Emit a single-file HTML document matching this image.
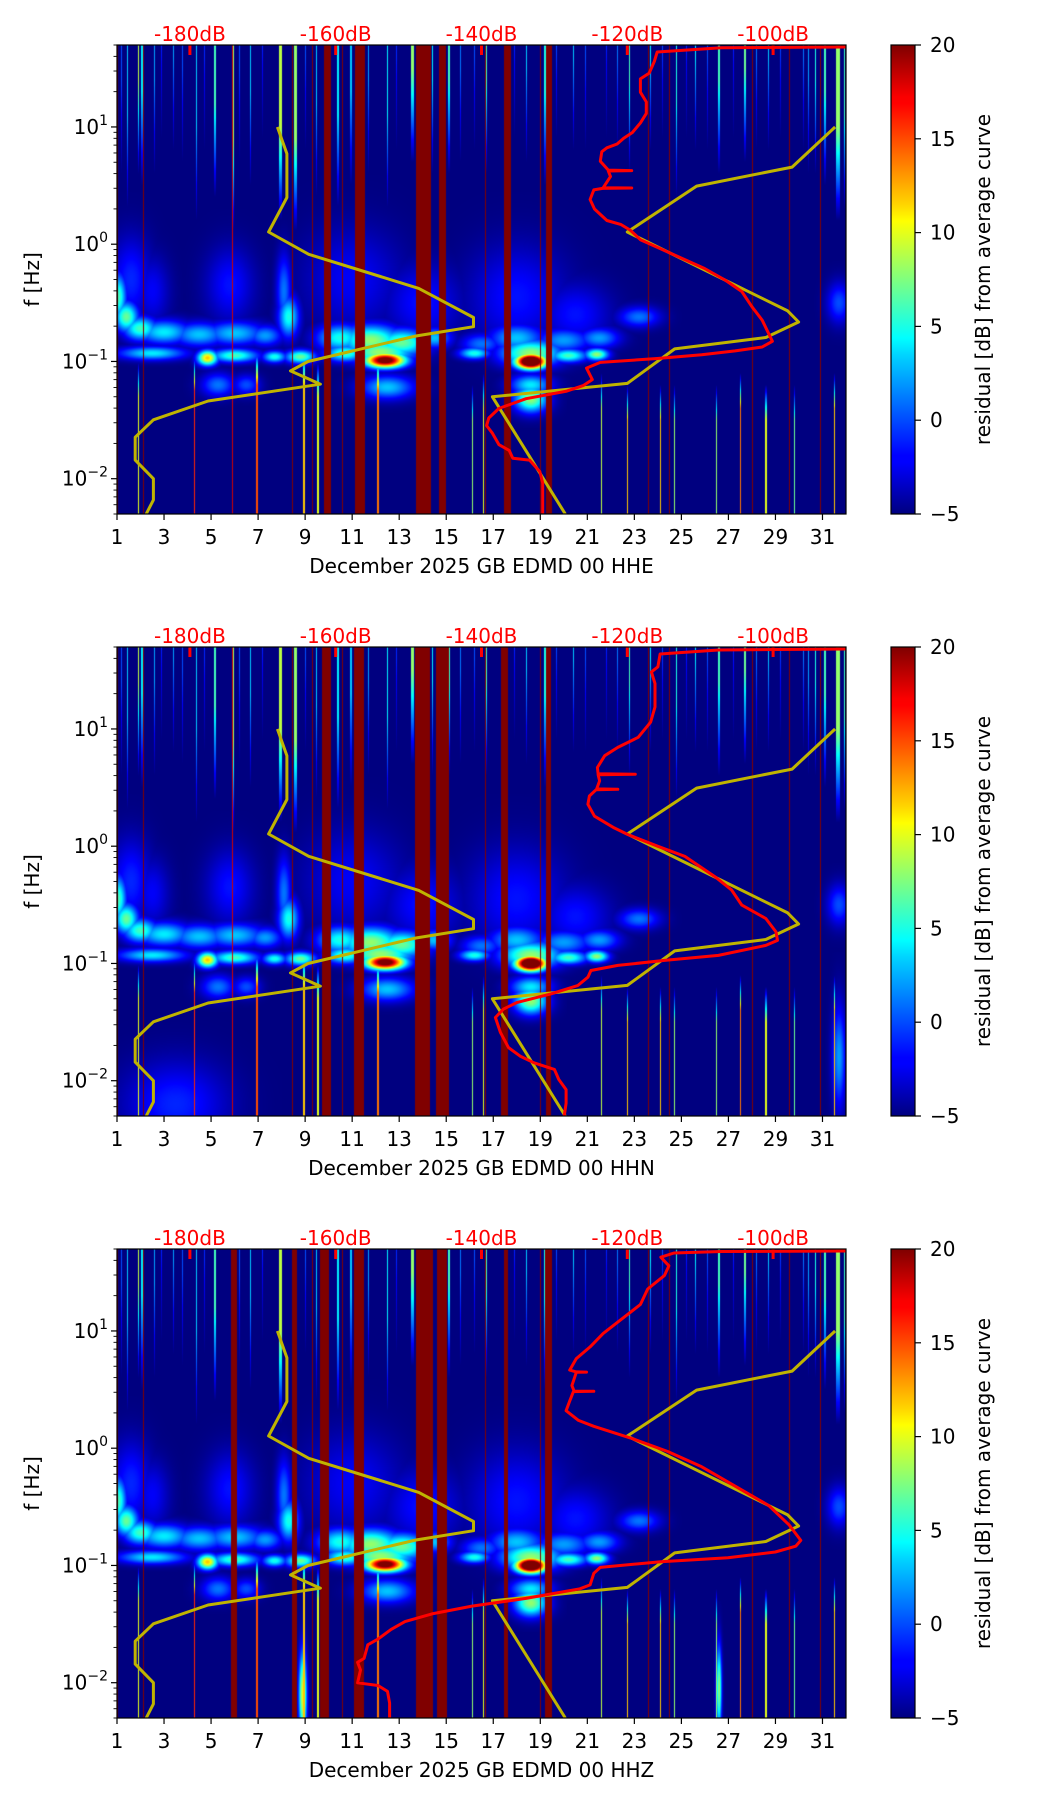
<!DOCTYPE html>
<html>
<head>
<meta charset="utf-8">
<style>
html,body{margin:0;padding:0;background:#fff;}
#wrap{position:relative;width:1052px;height:1806px;overflow:hidden;background:#fff;}
canvas{position:absolute;}
svg{position:absolute;left:0;top:0;}
text{font-family:"DejaVu Sans","Liberation Sans",sans-serif;}
</style>
</head>
<body>
<div id="wrap">
<canvas id="c0" width="729" height="469" style="left:117px;top:45px"></canvas>
<canvas id="c1" width="729" height="469" style="left:117px;top:647px"></canvas>
<canvas id="c2" width="729" height="469" style="left:117px;top:1249px"></canvas>
<svg id="ov" width="1052" height="1806"></svg>
</div>
<script>
// ---------- data ----------
const channelNames = ['HHE','HHN','HHZ'];
const dayTicks = [1,3,5,7,9,11,13,15,17,19,21,23,25,27,29,31];
const dbTicks = [-180,-160,-140,-120,-100];
const decadeTicks = [-2,-1,0,1];
const cbarTicks = [-5,0,5,10,15,20];

const nlnmFreq = [10,5.9,2.5,1.27,0.82,0.42,0.237,0.198,0.165,0.10,0.083,0.064,0.046,0.0318,0.0226,0.0144,0.01,0.0066,0.005];
const nlnmDb = [-168,-166.7,-166.7,-169.2,-163.7,-148.6,-141.1,-141.1,-149,-163.8,-166.2,-162.1,-177.5,-185,-187.5,-187.5,-185,-185,-186];
const nhnmFreq = [10,4.55,3.13,1.27,0.27,0.217,0.16,0.128,0.065,0.05,0.005];
const nhnmDb = [-91.5,-97.4,-110.5,-120,-98,-96.5,-101,-113.5,-120,-138.5,-128.5];

const redDb1 = [-89.5,-107.1,-115.9,-116.3,-117.0,-118.2,-118.2,-117.4,-117.4,-118.2,-119.3,-120.5,-121.4,-122.8,-123.5,-123.7,-122.6,-119.4,-122.6,-122.3,-123.3,-119.4,-123.4,-124.6,-125.1,-124.5,-122.8,-120.9,-119.6,-118.2,-113.5,-109.4,-106.6,-104.3,-102.9,-101.5,-100.6,-100.1,-101.5,-105.2,-109.8,-115.9,-123.7,-125.6,-124.8,-126.0,-128.3,-133.9,-137.6,-139.0,-139.3,-138.5,-137.6,-136.2,-135.7,-133.4,-132.0,-131.6,-131.6,-131.6];
const redLf1 = [1.682,1.675,1.639,1.558,1.459,1.410,1.296,1.214,1.116,1.035,0.953,0.904,0.855,0.822,0.789,0.708,0.632,0.628,0.624,0.577,0.482,0.479,0.476,0.463,0.381,0.300,0.202,0.169,0.120,0.038,-0.093,-0.207,-0.305,-0.403,-0.534,-0.648,-0.763,-0.828,-0.877,-0.910,-0.942,-0.975,-1.008,-1.057,-1.155,-1.204,-1.253,-1.318,-1.400,-1.482,-1.547,-1.612,-1.710,-1.759,-1.825,-1.841,-1.939,-2.037,-2.168,-2.309];
const redDb2 = [-89.5,-107.5,-115.5,-115.8,-116.7,-116.2,-116.2,-116.8,-118.5,-121.3,-123.1,-124.1,-124.0,-118.9,-124.0,-123.8,-124.2,-121.3,-124.3,-125.2,-125.4,-124.5,-121.8,-119.9,-115.8,-112.1,-108.0,-105.7,-104.3,-101.0,-99.6,-99.4,-101.0,-107.5,-114.9,-121.3,-125.0,-125.4,-126.8,-130.5,-135.1,-137.0,-138.1,-137.4,-136.3,-134.7,-132.8,-130.0,-129.4,-128.4,-128.4,-128.7];
const redLf2 = [1.682,1.673,1.639,1.530,1.487,1.387,1.187,1.058,0.929,0.843,0.772,0.671,0.618,0.614,0.610,0.557,0.489,0.485,0.481,0.428,0.357,0.256,0.156,0.099,-0.001,-0.087,-0.259,-0.373,-0.502,-0.617,-0.731,-0.803,-0.846,-0.931,-0.974,-1.017,-1.060,-1.117,-1.189,-1.260,-1.332,-1.389,-1.461,-1.590,-1.718,-1.790,-1.847,-1.904,-1.990,-2.076,-2.191,-2.320];
const redDb3 = [-89.5,-107.1,-113.6,-115.4,-114.3,-114.9,-117.2,-118.2,-120.9,-123.3,-125.1,-127.0,-127.9,-127.0,-125.6,-127.0,-127.6,-127.3,-124.6,-127.4,-127.9,-128.4,-126.7,-124.6,-119.6,-114.5,-109.8,-105.2,-100.6,-97.8,-96.2,-96.9,-99.7,-106.2,-115.4,-123.7,-124.6,-125.1,-126.5,-133.9,-141.3,-146.8,-150.5,-152.4,-154.2,-155.6,-156.1,-157.0,-156.6,-157.0,-154.2,-152.9,-152.6,-152.6];
const redLf3 = [1.682,1.678,1.665,1.629,1.556,1.474,1.358,1.226,1.095,0.979,0.864,0.764,0.666,0.651,0.649,0.647,0.534,0.487,0.485,0.483,0.402,0.320,0.237,0.187,0.088,-0.027,-0.159,-0.324,-0.489,-0.654,-0.786,-0.836,-0.885,-0.935,-0.968,-1.017,-1.067,-1.166,-1.199,-1.281,-1.347,-1.413,-1.479,-1.545,-1.628,-1.677,-1.793,-1.826,-1.892,-2.001,-2.024,-2.074,-2.173,-2.305];

// blobs [day, log10 f, day sigma, logf sigma, peak dB]
const blobsCommon = [
 [1.05,-0.45,0.25,0.14,6],[1.4,-0.62,0.35,0.09,7],[2.0,-0.72,0.5,0.07,6],[3.0,-0.75,0.8,0.07,4],
 [4.5,-0.77,0.8,0.07,3],[6.0,-0.76,0.9,0.07,3],[7.3,-0.78,0.5,0.06,2],
 [1.6,-0.3,0.6,0.25,-1],[2.5,-0.4,0.5,0.2,-2],[5.8,-0.35,0.7,0.22,-1.5],[8.1,-0.4,0.22,0.22,1],[8.3,-0.62,0.3,0.12,5],
 [11,-0.3,1.4,0.3,-2],[14,-0.5,1.1,0.22,-1.5],[18,-0.45,1.4,0.3,-1.5],[20.5,-0.6,1,0.18,-1.5],
 [23.2,-0.62,0.6,0.06,1],[31.7,-0.5,0.35,0.12,0],
 [10.5,-0.8,0.7,0.08,5],[11.8,-0.82,0.9,0.09,8],[13.1,-0.84,0.8,0.08,7],[14.5,-0.8,0.5,0.06,3],
 [16.5,-0.85,0.6,0.06,1],[18,-0.8,0.8,0.08,3],[20,-0.82,0.8,0.07,2],[21.5,-0.8,0.6,0.06,2],
 [2.5,-0.93,1.0,0.04,4],[4.85,-0.97,0.3,0.045,12],[6.0,-0.95,0.7,0.04,6],[7.7,-0.96,0.35,0.035,5],
 [8.8,-0.96,0.45,0.04,7],[10.7,-0.93,0.6,0.05,6],[12.4,-0.99,0.6,0.045,23],[12.2,-0.92,1.0,0.07,8],
 [16.2,-0.93,0.45,0.035,5],[18.6,-1.0,0.45,0.045,30],[18.6,-0.93,0.9,0.08,8],[20.2,-0.95,0.55,0.04,6],
 [21.4,-0.94,0.35,0.035,8],
 [5.3,-1.2,0.5,0.07,1],[6.5,-1.2,0.4,0.06,0],[12.5,-1.22,0.8,0.07,3],[18.6,-1.32,0.5,0.08,8],[18.6,-1.2,0.6,0.06,4]
];
const blobsExtra = [
 [],
 [[3.5,-2.2,1.5,0.25,-1],[31.7,-1.8,0.2,0.3,2]],
 [[26.6,-2.05,0.08,0.25,8],[8.9,-2.1,0.12,0.25,10]]
];
const bands = [
 [[9.79,10.07],[11.14,11.5],[13.71,14.31],[14.69,14.95],[17.46,17.72],[19.25,19.45]],
 [[9.72,10.06],[11.09,11.47],[13.67,14.27],[14.56,15.06],[17.31,17.59],[19.23,19.41]],
 [[9.64,9.99],[11.08,11.47],[13.7,14.4],[14.6,15.0],[17.45,17.6],[19.2,19.45],[5.85,6.05],[8.45,8.6]]
];
// full-height thin lines [day, width days, dB]
const fullLines = [[1.0,0.04,20],[2.1,0.03,20],[5.9,0.03,18],[8.45,0.04,20],[9.3,0.03,20],[10.6,0.03,20],[16.65,0.03,20],[19.0,0.03,20],[23.6,0.03,20],[24.5,0.03,20],[28.0,0.03,20],[29.6,0.03,20],[30.9,0.03,20]];
// low-frequency spikes [day, width days, top log f, dB]
const lfSpikes = [[1.9,0.04,-1.0,10],[4.3,0.04,-0.95,16],[6.95,0.08,-0.9,15],[8.95,0.1,-0.9,12],[9.55,0.05,-1.0,10],[12.1,0.05,-0.95,14],[16.1,0.04,-1.2,8],[16.6,0.04,-1.1,10],[21.6,0.04,-1.1,9],[22.7,0.04,-1.2,12],[24.1,0.05,-1.2,12],[24.7,0.04,-1.2,8],[26.5,0.04,-1.2,8],[27.5,0.05,-1.1,14],[28.6,0.05,-1.2,10],[29.8,0.04,-1.2,7],[31.5,0.06,-1.1,12]];
// high-frequency streaks [day, width days, bottom log f, dB]
const hfStreaks = [[1.45,0.05,0.3,3],[1.9,0.05,0.6,9],[2.07,0.06,0.5,4],[2.6,0.04,0.6,2],[3.4,0.03,0.8,2],[4.4,0.04,0.2,3],[5.17,0.06,0.4,6],[5.94,0.1,0.1,8],[6.66,0.05,0.5,3],[7.95,0.12,0.2,9],[8.6,0.15,0.1,8],[9.5,0.05,0.4,3],[10.4,0.06,0.3,4],[10.95,0.05,0.5,3],[11.7,0.04,0.6,2],[12.5,0.06,0.3,4],[13.55,0.12,0.7,8],[14.4,0.05,0.6,4],[15.1,0.08,0.6,6],[16.7,0.06,0.6,6],[17.5,0.04,0.8,3],[18.4,0.05,0.7,3],[19.2,0.06,0.5,5],[20.4,0.05,0.8,3],[22.8,0.05,0.6,6],[23.7,0.05,0.8,4],[24.8,0.06,0.4,5],[25.6,0.04,0.8,4],[26.6,0.06,0.6,6],[27.7,0.06,0.7,7],[28.7,0.04,0.8,3],[30.7,0.05,0.6,5],[31.1,0.06,0.5,6],[31.65,0.15,0.2,8],[31.95,0.05,0.3,6],
 [1.2,0.04,0.6,0],[2.9,0.04,0.9,-1],[3.8,0.04,0.7,0],[4.7,0.04,0.8,-1],[6.2,0.04,0.7,0],[7.2,0.04,0.9,-1],[9.0,0.04,0.8,0],[9.9,0.04,0.7,-1],[11.3,0.04,0.8,0],[12.9,0.04,0.8,-1],[14.9,0.04,0.8,0],[15.6,0.04,0.7,1],[16.2,0.04,0.8,0],[17.9,0.04,0.9,-1],[19.7,0.04,0.9,0],[20.9,0.04,0.8,0],[21.8,0.04,0.9,-1],[22.3,0.04,0.8,1],[24.2,0.04,0.9,0],[25.2,0.04,0.9,-1],[26.1,0.04,0.8,0],[27.2,0.04,0.9,-1],[28.2,0.04,0.8,1],[29.2,0.04,0.9,0],[30.2,0.04,0.8,1],[30.4,0.05,0.6,2]];

// ---------- axes ----------
const AX_L=117, AX_W=729, AX_H=469, TOPS=[45,647,1249];
const DAY0=1, DAY1=32, LF_TOP=Math.log10(50), LF_BOT=Math.log10(0.005), DB0=-190, DB1=-90, V0=-5, V1=20;
const CB_X=891, CB_W=24;
function xDay(d){return AX_L+(d-DAY0)/(DAY1-DAY0)*AX_W;}
function yLf(lf,top){return top+(LF_TOP-lf)/(LF_TOP-LF_BOT)*AX_H;}
function xDb(db){return AX_L+(db-DB0)/(DB1-DB0)*AX_W;}
function yCb(v,top){return top+(V1-v)/(V1-V0)*AX_H;}
function jet(v){
  let t=(v-V0)/(V1-V0); t=Math.max(0,Math.min(1,t));
  const c=x=>Math.max(0,Math.min(1,x));
  return [c(1.5-Math.abs(4*t-3))*255,c(1.5-Math.abs(4*t-2))*255,c(1.5-Math.abs(4*t-1))*255];
}

function drawSpec(p){
  const cv=document.getElementById('c'+p), ctx=cv.getContext('2d');
  const W=AX_W,H=AX_H, V=new Float32Array(W*H).fill(V0);
  const pxDay=i=>DAY0+(i+0.5)/W*(DAY1-DAY0);
  const pxLf=j=>LF_TOP-(j+0.5)/H*(LF_TOP-LF_BOT);
  const col=d=>Math.round((d-DAY0)/(DAY1-DAY0)*W);
  const row=lf=>Math.round((LF_TOP-lf)/(LF_TOP-LF_BOT)*H);
  const blobs=blobsCommon.concat(blobsExtra[p]);
  for(const b of blobs){
    const [dc,lc,sd,sl,pk]=b;
    const i0=Math.max(0,col(dc-3*sd)), i1=Math.min(W-1,col(dc+3*sd));
    const j0=Math.max(0,row(lc+3*sl)), j1=Math.min(H-1,row(lc-3*sl));
    for(let i=i0;i<=i1;i++){const dd=(pxDay(i)-dc)/sd;
      for(let j=j0;j<=j1;j++){const dl=(pxLf(j)-lc)/sl;
        const g=Math.exp(-0.5*(dd*dd+dl*dl)); const v=V0+(pk-V0)*g;
        const k=j*W+i; if(v>V[k])V[k]=v;}}
  }
  const span=(d,w)=>{let a=col(d-w/2),b=col(d+w/2); if(b<=a)b=a+1; return [Math.max(0,a),Math.min(W-1,b-1)];};
  for(const s of hfStreaks){
    const [a,b]=span(s[0],s[1]); const jb=row(s[2]);
    for(let i=a;i<=b;i++)for(let j=0;j<Math.min(H,jb);j++){
      const f=Math.min(1,(pxLf(j)-s[2])/0.8); const v=V0+(s[3]-V0)*f; const k=j*W+i; if(v>V[k])V[k]=v;}
  }
  for(const s of lfSpikes){
    const [a,b]=span(s[0],s[1]); const jt=Math.max(0,row(s[2]));
    for(let i=a;i<=b;i++)for(let j=jt;j<H;j++){
      const f=Math.min(1,(s[2]-pxLf(j))/0.3); const v=V0+(s[3]-V0)*f; const k=j*W+i; if(v>V[k])V[k]=v;}
  }
  for(const s of fullLines){
    const [a,b]=span(s[0],s[1]);
    for(let i=a;i<=b;i++)for(let j=0;j<H;j++){const k=j*W+i; if(s[2]>V[k])V[k]=s[2];}
  }
  for(const bd of bands[p]){
    const a=Math.max(0,col(bd[0])), b=Math.min(W-1,col(bd[1]));
    for(let i=a;i<=b;i++)for(let j=0;j<H;j++)V[j*W+i]=V1;
  }
  const img=ctx.createImageData(W,H);
  for(let k=0;k<W*H;k++){const c=jet(V[k]); img.data[4*k]=c[0];img.data[4*k+1]=c[1];img.data[4*k+2]=c[2];img.data[4*k+3]=255;}
  ctx.putImageData(img,0,0);
}
[0,1,2].forEach(drawSpec);

const NS='http://www.w3.org/2000/svg';
const svg=document.getElementById('ov');
function mk(tag,attrs,parent){const e=document.createElementNS(NS,tag);for(const k in attrs)e.setAttribute(k,attrs[k]);(parent||svg).appendChild(e);return e;}

const defs=mk('defs',{});
const grad=mk('linearGradient',{id:'jetg',x1:0,y1:1,x2:0,y2:0},defs);
[[0,'#00007f'],[0.11,'#0000ff'],[0.125,'#0000ff'],[0.34,'#00d5ff'],[0.375,'#00ffff'],[0.5,'#7fff7f'],[0.625,'#ffff00'],[0.66,'#ffd500'],[0.875,'#ff0000'],[0.89,'#fa0000'],[1,'#7f0000']].forEach(s=>mk('stop',{offset:s[0],'stop-color':s[1]},grad));

function polyPts(dbArr,lfArr,top){return dbArr.map((d,i)=>xDb(d).toFixed(1)+','+yLf(lfArr[i],top).toFixed(1)).join(' ');}
const redDb=[redDb1,redDb2,redDb3], redLf=[redLf1,redLf2,redLf3];

TOPS.forEach((top,p)=>{
  const g=mk('g',{});
  
  
  const cp=mk('clipPath',{id:'clip'+p},defs);
  mk('rect',{x:AX_L,y:top,width:AX_W,height:AX_H},cp);
  const cg=mk('g',{'clip-path':'url(#clip'+p+')'},g);
  const nl=mk('polyline',{points:polyPts(nlnmDb,nlnmFreq.map(Math.log10),top),fill:'none',stroke:'#c0b400','stroke-width':3,'stroke-linejoin':'round'},cg);
  
  
  const nh=mk('polyline',{points:polyPts(nhnmDb,nhnmFreq.map(Math.log10),top),fill:'none',stroke:'#c0b400','stroke-width':3,'stroke-linejoin':'round'},cg);
  
  
  const rl=mk('polyline',{points:polyPts(redDb[p],redLf[p],top),fill:'none',stroke:'#ff0000','stroke-width':3,'stroke-linejoin':'round'},cg);
  
  
  dbTicks.forEach(db=>{
    const t=mk('rect',{x:xDb(db)-1.5,y:top,width:3,height:10,fill:'#ff0000'},g);
    
    
    const l=mk('text',{x:xDb(db),y:top-4,'text-anchor':'middle','font-size':20,fill:'#ff0000'},g);
    l.textContent=db+'dB';
    
    
  });
  const fr=mk('rect',{x:AX_L,y:top,width:AX_W,height:AX_H,fill:'none',stroke:'#000','stroke-width':1.2},g);
  
  
  dayTicks.forEach(d=>{
    const x=xDay(d);
    const t=mk('line',{x1:x,y1:top+AX_H,x2:x,y2:top+AX_H+6,stroke:'#000','stroke-width':1.2},g);
    
    
    const l=mk('text',{x:x,y:top+AX_H+30,'text-anchor':'middle','font-size':20,fill:'#000'},g);
    l.textContent=d;
    
    
  });
  const xl=mk('text',{x:AX_L+AX_W/2,y:top+AX_H+59,'text-anchor':'middle','font-size':20,fill:'#000'},g);
  xl.textContent='December 2025 GB EDMD 00 '+channelNames[p];
  
  
  for(let e=-3;e<=1;e++){
    for(let m=1;m<10;m++){
      const lf=e+Math.log10(m); if(lf<LF_BOT||lf>LF_TOP)continue;
      const y=yLf(lf,top), len=m===1?6:3.5;
      const t=mk('line',{x1:AX_L-len,y1:y,x2:AX_L,y2:y,stroke:'#000','stroke-width':m===1?1.2:0.9},g);
      
      
    }
  }
  decadeTicks.forEach(e=>{
    const y=yLf(e,top);
    const l=mk('text',{x:AX_L-9,y:y+7,'text-anchor':'end','font-size':20,fill:'#000'},g);
    
    
    const b=mk('tspan',{},l); b.textContent='10';
    const s=mk('tspan',{'font-size':14,dy:-9},l); s.textContent=e<0?'\u2212'+(-e):String(e);
  });
  const yl=mk('text',{x:0,y:0,'text-anchor':'middle','font-size':20,fill:'#000',transform:'translate(39,'+(top+AX_H/2)+') rotate(-90)'},g);
  yl.textContent='f [Hz]';
  
  
  const cb=mk('rect',{x:CB_X,y:top,width:CB_W,height:AX_H,fill:'url(#jetg)',stroke:'#000','stroke-width':1.2},g);
  
  
  cbarTicks.forEach(v=>{
    const y=yCb(v,top);
    const t=mk('line',{x1:CB_X+CB_W,y1:y,x2:CB_X+CB_W+6,y2:y,stroke:'#000','stroke-width':1.2},g);
    
    
    const l=mk('text',{x:CB_X+CB_W+15,y:y+7,'text-anchor':'start','font-size':20,fill:'#000'},g);
    l.textContent=v<0?'\u2212'+(-v):String(v);
    
    
  });
  const cl=mk('text',{x:0,y:0,'text-anchor':'middle','font-size':20,fill:'#000',transform:'translate(990,'+(top+AX_H/2)+') rotate(-90)'},g);
  cl.textContent='residual [dB] from average curve';
  
  
});
</script>
</body>
</html>
